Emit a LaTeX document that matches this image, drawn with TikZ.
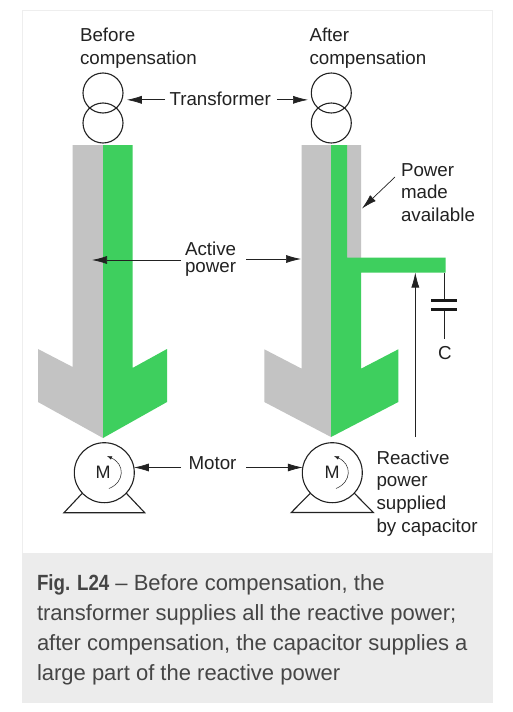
\documentclass[tikz,border=0pt]{standalone}
\usepackage{fontspec}
\setmainfont{Liberation Sans}
\newfontfamily\capboldfont[FakeStretch=0.85,Ligatures=TeX]{Liberation Sans Bold}
\usetikzlibrary{arrows.meta}
\definecolor{barg}{HTML}{3ECF5E}
\definecolor{bary}{HTML}{C3C3C3}
\definecolor{capbg}{HTML}{ECECEC}
\definecolor{framec}{HTML}{EEEEEE}
\definecolor{inkc}{HTML}{222222}
\definecolor{capc}{HTML}{454545}
\tikzset{
  lbl/.style={anchor=base west,inner sep=0pt,outer sep=0pt,align=left,text=inkc,font=\fontsize{18.75}{22.6}\selectfont},
  caplbl/.style={anchor=base west,inner sep=0pt,outer sep=0pt,align=left,text=capc,font=\fontsize{22}{30}\selectfont},
  ring/.style={draw=inkc,line width=1.1pt,circle,inner sep=0pt,outer sep=0pt,minimum size=40pt},
  motor/.style={draw=inkc,line width=1.1pt,circle,inner sep=0pt,outer sep=0pt,minimum size=60pt},
  arr/.style={draw=inkc,line width=0.7pt,-{Latex[length=15pt,width=8pt]}},
  spin/.style={draw=inkc,line width=0.5pt,-{Latex[length=5pt,width=3.5pt]}},
  plate/.style={draw=black!90,line width=3pt},
  lead/.style={draw=inkc,line width=1pt},
  foot/.style={draw=inkc,line width=1.1pt}
}
\begin{document}
\begin{tikzpicture}[x=1pt,y=-1pt]
\useasboundingbox (0,0) rectangle (512,712);
\fill[white] (0,0) rectangle (512,712);
\draw[framec,line width=1pt] (22.5,553) -- (22.5,10.5) -- (492.5,10.5) -- (492.5,553);
\fill[capbg] (22,553) rectangle (493,703);
% left power arrow
\fill[bary] (72.7,145) -- (103,145) -- (103,438) -- (38,402) -- (38,349) -- (72.7,367) -- cycle;
\fill[barg] (103,145) -- (132.5,145) -- (132.5,368) -- (167,349) -- (167,402) -- (103,438) -- cycle;
% right power arrow
\fill[bary] (301.7,145) -- (361,145) -- (361,272) -- (331,272) -- (331,437) -- (264.3,402) -- (264.3,349.3) -- (301.7,368.7) -- cycle;
\fill[barg] (331,145) -- (347,145) -- (347,257.7) -- (445.7,257.7) -- (445.7,272.7) -- (361,272.7) -- (361,368.7) -- (398.3,349.3) -- (398.3,402) -- (331,437) -- cycle;
% transformers
\node[ring] (tl1) at (103,93) {};
\node[ring] (tl2) at (103,123) {};
\node[ring] (tr1) at (331.3,93) {};
\node[ring] (tr2) at (331.3,123) {};
% motors
\node[motor] (ml) at (104.3,472.7) {};
\node[motor] (mr) at (332.3,472.7) {};
\node[inner sep=0pt,text=inkc,font=\fontsize{18}{20}\selectfont] (mlt) at (103,472.5) {M};
\node[inner sep=0pt,text=inkc,font=\fontsize{18}{20}\selectfont] (mrt) at (332,472.5) {M};
\coordinate (sl1) at (109,488.5); \coordinate (sl2) at (107,456);
\coordinate (sr1) at (336,488.5); \coordinate (sr2) at (334,456);
\draw[spin] (sl1) .. controls (125,482) and (125,464) .. (sl2);
\draw[spin] (sr1) .. controls (352,482) and (352,464) .. (sr2);
\coordinate (fl1) at (64,512.7); \coordinate (fl2) at (144.7,512.7);
\coordinate (fr1) at (291.3,512.5); \coordinate (fr2) at (373.3,512.5);
\draw[foot] (ml.223) -- (fl1) -- (fl2) -- (ml.317);
\draw[foot] (mr.223) -- (fr1) -- (fr2) -- (mr.317);
% labels
\node[lbl] (before) at (80,64.5) {Before\\compensation};
\node[lbl] (after) at (309.5,64.5) {After\\compensation};
\node[lbl] (trans) at (169.5,105) {Transformer};
\node[lbl] (madeav) at (401,221.5) {Power\\made\\available};
\node[lbl,align=center,font=\fontsize{18.75}{17}\selectfont] (active) at (185,272.5) {Active\\power};
\node[lbl] (motlbl) at (188.5,469) {Motor};
\node[lbl] (react) at (376.5,532) {Reactive\\power\\supplied\\by capacitor};
\node[lbl] (clbl) at (438,359) {C};
% connectors
\coordinate (activeL) at (92,260);
\coordinate (activeR) at (301,259);
\coordinate (madeS) at (395,177);
\coordinate (madeE) at (362,208.5);
\coordinate (reactS) at (415.3,437);
\coordinate (reactE) at (415.3,272.5);
\draw[arr] ([xshift=-4.5pt]trans.west |- tl1.-20) -- ([xshift=5pt]tl1.-20);
\draw[arr] ([xshift=6pt]trans.east |- tr1.200) -- ([xshift=-4.5pt]tr1.200);
\draw[arr] ([xshift=-4pt]active.west |- activeL) -- (activeL);
\draw[arr] ([xshift=10pt]active.east |- activeR) -- (activeR);
\draw[arr] (madeS) -- (madeE);
\draw[arr] (reactS) -- (reactE);
\draw[arr] ([xshift=-7.5pt]motlbl.west |- ml.10) -- (ml.10);
\draw[arr] ([xshift=10pt]motlbl.east |- mr.170) -- (mr.170);
% capacitor
\coordinate (ctop) at (444.3,272.7);
\coordinate (p1) at (444.3,300);
\coordinate (p2) at (444.3,309.3);
\coordinate (cbot) at (444.3,339);
\draw[lead] (ctop) -- (p1);
\draw[lead] (p2) -- (cbot);
\draw[plate] ([xshift=-13pt]p1) -- ([xshift=13pt]p1);
\draw[plate] ([xshift=-13pt]p2) -- ([xshift=13pt]p2);
% caption
\node[caplbl] (caption) at (37,680) {{\capboldfont Fig. L24} – Before compensation, the\\transformer supplies all the reactive power;\\after compensation, the capacitor supplies a\\large part of the reactive power};
\end{tikzpicture}
\end{document}
